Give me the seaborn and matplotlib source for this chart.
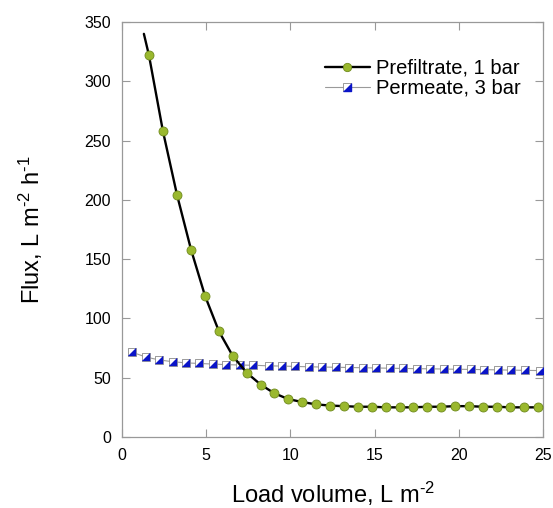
import numpy as np
import matplotlib
matplotlib.use("Agg")
import matplotlib.pyplot as plt
import seaborn as sns
from matplotlib.lines import Line2D
from matplotlib.legend_handler import HandlerTuple

# Prefiltrate, 1 bar (markers)
pre_x = [1.60, 2.43, 3.27, 4.10, 4.93, 5.76, 6.59, 7.42, 8.25, 9.03, 9.86, 10.69,
         11.52, 12.35, 13.18, 14.01, 14.85, 15.68, 16.51, 17.28, 18.11, 18.94,
         19.77, 20.61, 21.44, 22.27, 23.04, 23.87, 24.70]
pre_y = [322, 258, 204, 158, 119, 89, 68, 54, 44, 37, 32, 29.5, 27.5, 26.5, 26,
         25.5, 25.5, 25, 25, 25, 25.5, 25.5, 26, 26, 25.5, 25.5, 25, 25, 25]

# fitted curve drawn through the points, starting a little before the first one
curve_x = [1.3] + pre_x + [25.0]
curve_y = [340] + pre_y + [25]

# Permeate, 3 bar
perm_x = [0.6, 1.4, 2.2, 3.0, 3.8, 4.6, 5.4, 6.2, 7.0, 7.8, 8.7, 9.5, 10.3, 11.1,
          11.9, 12.7, 13.5, 14.3, 15.1, 15.9, 16.7, 17.5, 18.3, 19.1, 19.9, 20.7,
          21.5, 22.3, 23.1, 23.9, 24.8]
perm_y = [71.5, 67.5, 65, 63.5, 62.5, 62, 61.5, 61, 60.7, 60.5, 60, 59.8, 59.5,
          59.2, 59, 58.8, 58.6, 58.4, 58.2, 58, 57.8, 57.6, 57.5, 57.3, 57.1, 57,
          56.8, 56.6, 56.4, 56.2, 56]

sns.set_style("ticks")
plt.rcParams["font.family"] = ["Liberation Sans", "DejaVu Sans"]
plt.rcParams["mathtext.fontset"] = "custom"
plt.rcParams["mathtext.rm"] = "Liberation Sans"
plt.rcParams["mathtext.it"] = "Liberation Sans"
plt.rcParams["text.color"] = "black"
plt.rcParams["axes.labelcolor"] = "black"
plt.rcParams["xtick.labelcolor"] = "black"
plt.rcParams["ytick.labelcolor"] = "black"

fig = plt.figure(figsize=(5.53, 5.08), dpi=100)
ax = fig.add_axes([0.2206, 0.1398, 0.7614, 0.8169])

green = "#9ab82e"
green_edge = "#6f8a1c"
blue = "#0a14c8"
tri = [(-1, -1), (1, -1), (1, 1)]

# permeate line + half filled squares
sns.lineplot(x=perm_x, y=perm_y, ax=ax, color="#9a9a9a", lw=0.8, sort=False)
sns.scatterplot(x=perm_x, y=perm_y, ax=ax, marker="s", s=36, color="white",
                edgecolor="#8a8a8a", linewidth=0.6, zorder=3)
sns.scatterplot(x=perm_x, y=perm_y, ax=ax, marker=tri, s=30, color=blue,
                edgecolor=blue, linewidth=0.2, zorder=4)

# prefiltrate curve + points
sns.lineplot(x=curve_x, y=curve_y, ax=ax, color="black", lw=1.7, sort=False, zorder=5)
sns.scatterplot(x=pre_x, y=pre_y, ax=ax, marker="o", s=42, color=green,
                edgecolor=green_edge, linewidth=0.6, zorder=6)

ax.set_xlim(0, 25)
ax.set_ylim(0, 350)
ax.set_xticks([0, 5, 10, 15, 20, 25])
ax.set_yticks(np.arange(0, 351, 50))
ax.tick_params(direction="in", length=6, width=0.8, color="#999999",
               top=True, right=True, labelsize=11.5, pad=8, labelcolor="black")
for sp in ax.spines.values():
    sp.set_color("#999999")
    sp.set_linewidth(0.9)

ax.set_xlabel(r"Load volume, L m$^{\text{-2}}$", fontsize=17, labelpad=12)
ax.set_ylabel(r"Flux, L m$^{\text{-2}}$ h$^{\text{-1}}$", fontsize=17, labelpad=28)

h1 = Line2D([], [], color="black", lw=1.7, marker="o", markersize=6,
            markerfacecolor=green, markeredgecolor=green_edge, markeredgewidth=0.6)
h2a = Line2D([], [], color="#9a9a9a", lw=0.8, marker="s", markersize=6,
             markerfacecolor="white", markeredgecolor="#8a8a8a", markeredgewidth=0.6)
h2b = Line2D([], [], lw=0, marker=tri, markersize=5.5, color=blue)
ax.legend([h1, (h2a, h2b)], ["Prefiltrate, 1 bar", "Permeate, 3 bar"],
          handler_map={tuple: HandlerTuple(ndivide=1)}, loc="upper right",
          bbox_to_anchor=(0.975, 0.94), frameon=False, fontsize=14.5,
          handlelength=2.2, handletextpad=0.3, labelspacing=0.05, borderaxespad=0.2)

fig.savefig("out.png", dpi=100)
